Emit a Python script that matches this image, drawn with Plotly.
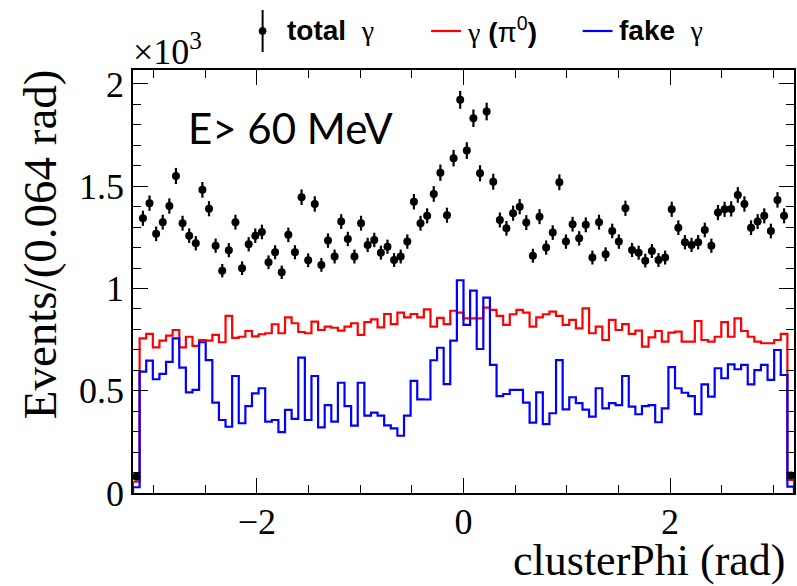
import numpy as np
import plotly.graph_objects as go

# ---- data (values in units of 10^3 events, 100 bins from -3.2 to 3.2 rad) ----
x_min, x_max, n_bins = -3.2, 3.2, 100

total = [0.080, 1.343, 1.417, 1.267, 1.324, 1.403, 1.550, 1.319, 1.258, 1.221,
         1.482, 1.390, 1.209, 1.087, 1.187, 1.324, 1.099, 1.216, 1.258, 1.276,
         1.128, 1.177, 1.079, 1.262, 1.177, 1.446, 1.138, 1.413, 1.115, 1.234,
         1.156, 1.327, 1.242, 1.156, 1.319, 1.213, 1.237, 1.175, 1.204, 1.139,
         1.156, 1.229, 1.424, 1.319, 1.355, 1.462, 1.566, 1.358, 1.637, 1.922,
         1.674, 1.832, 1.563, 1.865, 1.522, 1.335, 1.294, 1.368, 1.400, 1.322,
         1.160, 1.351, 1.200, 1.273, 1.519, 1.229, 1.314, 1.245, 1.311, 1.151,
         1.324, 1.167, 1.281, 1.229, 1.392, 1.188, 1.175, 1.136, 1.183, 1.139,
         1.151, 1.387, 1.297, 1.226, 1.213, 1.226, 1.286, 1.209, 1.371, 1.387,
         1.389, 1.457, 1.413, 1.297, 1.327, 1.355, 1.281, 1.433, 1.355, 0.085]

gamma_pi0 = [0.055, 0.756, 0.778, 0.712, 0.745, 0.769, 0.797, 0.712, 0.764, 0.719,
             0.748, 0.745, 0.773, 0.737, 0.866, 0.758, 0.764, 0.792, 0.766, 0.776,
             0.781, 0.825, 0.781, 0.859, 0.830, 0.787, 0.781, 0.838, 0.797, 0.813,
             0.808, 0.794, 0.813, 0.830, 0.773, 0.835, 0.849, 0.810, 0.875, 0.826,
             0.882, 0.859, 0.875, 0.859, 0.898, 0.813, 0.856, 0.826, 0.891, 0.882,
             0.854, 0.854, 0.854, 0.906, 0.895, 0.866, 0.822, 0.874, 0.895, 0.882,
             0.813, 0.859, 0.874, 0.887, 0.866, 0.822, 0.846, 0.805, 0.903, 0.781,
             0.813, 0.748, 0.846, 0.797, 0.826, 0.778, 0.794, 0.716, 0.761, 0.792,
             0.740, 0.784, 0.789, 0.740, 0.740, 0.841, 0.748, 0.740, 0.764, 0.835,
             0.764, 0.854, 0.792, 0.764, 0.740, 0.732, 0.732, 0.748, 0.778, 0.064]

fake = [0.028, 0.593, 0.647, 0.556, 0.582, 0.641, 0.756, 0.613, 0.492, 0.504,
        0.737, 0.650, 0.442, 0.357, 0.324, 0.572, 0.341, 0.425, 0.487, 0.512,
        0.349, 0.357, 0.298, 0.406, 0.362, 0.662, 0.357, 0.572, 0.321, 0.430,
        0.349, 0.539, 0.425, 0.329, 0.539, 0.378, 0.393, 0.378, 0.331, 0.316,
        0.280, 0.378, 0.548, 0.458, 0.457, 0.649, 0.710, 0.532, 0.745, 1.040,
        0.822, 0.989, 0.704, 0.955, 0.626, 0.474, 0.484, 0.504, 0.504, 0.442,
        0.344, 0.492, 0.337, 0.390, 0.650, 0.409, 0.468, 0.439, 0.408, 0.373,
        0.512, 0.414, 0.439, 0.430, 0.572, 0.422, 0.385, 0.425, 0.430, 0.346,
        0.414, 0.615, 0.512, 0.490, 0.474, 0.386, 0.531, 0.471, 0.610, 0.561,
        0.629, 0.605, 0.626, 0.531, 0.601, 0.626, 0.553, 0.699, 0.577, 0.031]

y_tick_vals = [0, 0.5, 1, 1.5, 2]
y_tick_text = ["0", "0.5", "1", "1.5", "2"]
x_tick_vals = [-2, 0, 2]
x_tick_text = ["\u22122", "0", "2"]

# ---- derived ----
edges = np.linspace(x_min, x_max, n_bins + 1)
centers = 0.5 * (edges[:-1] + edges[1:])
err = np.sqrt(np.array(total) * 1000.0) / 1000.0


def step_xy(vals):
    xs = np.repeat(edges, 2)
    ys = np.concatenate([[0.0], np.repeat(vals, 2), [0.0]])
    return xs, ys


fig = go.Figure()

xr, yr = step_xy(np.array(gamma_pi0))
fig.add_trace(go.Scatter(x=xr, y=yr, mode="lines",
                         line=dict(color="#ff0000", width=2.2), showlegend=False))
xb, yb = step_xy(np.array(fake))
fig.add_trace(go.Scatter(x=xb, y=yb, mode="lines",
                         line=dict(color="#0000ff", width=2.2), showlegend=False))
fig.add_trace(go.Scatter(x=centers, y=total, mode="markers",
                         marker=dict(color="black", size=8),
                         error_y=dict(type="data", array=err, color="black",
                                      thickness=2.2, width=0),
                         showlegend=False))

# ---- layout geometry (pixels) ----
W, H = 797, 586
L, R, T, B = 133, 1, 70, 93
pw, ph = W - L - R, H - T - B


def px(x):
    return (x - L) / pw


def py(y):
    return (H - B - y) / ph


serif = "Liberation Serif, Times New Roman, serif"
sans = "Liberation Sans, Arial, sans-serif"
g_serif = '<span style="font-family:Liberation Serif, serif">\u03b3</span>'

fig.update_layout(
    width=W, height=H,
    margin=dict(l=L, r=R, t=T, b=B, pad=0),
    paper_bgcolor="white", plot_bgcolor="white",
    showlegend=False,
    xaxis=dict(range=[x_min, x_max], showgrid=False, zeroline=False,
               showline=True, linecolor="black", linewidth=1.5, mirror="ticks",
               ticks="inside", ticklen=15, tickwidth=1, tickcolor="black",
               tickvals=x_tick_vals, ticktext=x_tick_text,
               tickfont=dict(family=serif, size=36, color="black"),
               ticklabelstandoff=-4,
               minor=dict(ticks="inside", ticklen=8, dtick=0.5, tick0=0,
                          tickcolor="black", showgrid=False)),
    yaxis=dict(range=[0, 2.068], showgrid=False, zeroline=False,
               showline=True, linecolor="black", linewidth=1.5, mirror="ticks",
               ticks="inside", ticklen=15, tickwidth=1, tickcolor="black",
               tickvals=y_tick_vals, ticktext=y_tick_text,
               tickfont=dict(family=serif, size=36, color="black"),
               minor=dict(ticks="inside", ticklen=8, dtick=0.1, tick0=0,
                          tickcolor="black", showgrid=False)),
)

ann = []
ann.append(dict(text="Events/(0.064 rad)", textangle=-90, xref="paper", yref="paper",
                x=px(40), y=py(244), xanchor="center", yanchor="middle", showarrow=False,
                font=dict(family=serif, size=47, color="black")))
ann.append(dict(text="clusterPhi (rad)", xref="paper", yref="paper",
                x=px(789), y=py(560), xanchor="right", yanchor="middle", showarrow=False,
                font=dict(family=serif, size=44, color="black")))
ann.append(dict(text="\u00d710<sup>3</sup>", xref="paper", yref="paper",
                x=px(131), y=py(50), xanchor="left", yanchor="middle", showarrow=False,
                font=dict(family=serif, size=36, color="black")))
ann.append(dict(text="E> 60 MeV", xref="paper", yref="paper",
                x=px(186), y=py(128), xanchor="left", yanchor="middle", showarrow=False,
                font=dict(family="Lato, Carlito, sans-serif", size=42, color="black")))
# legend texts
ann.append(dict(text="<b>total</b>  " + g_serif, xref="paper", yref="paper",
                x=px(285), y=py(30), xanchor="left", yanchor="middle", showarrow=False,
                font=dict(family=sans, size=28, color="black")))
ann.append(dict(text=g_serif + " <b>(</b>\u03c0<sup>0</sup><b>)</b>", xref="paper", yref="paper",
                x=px(466), y=py(30), xanchor="left", yanchor="middle", showarrow=False,
                font=dict(family=sans, size=28, color="black")))
ann.append(dict(text="<b>fake</b>  " + g_serif, xref="paper", yref="paper",
                x=px(618), y=py(30), xanchor="left", yanchor="middle", showarrow=False,
                font=dict(family=sans, size=28, color="black")))
fig.update_layout(annotations=ann)

shapes = []
shapes.append(dict(type="line", xref="paper", yref="paper",
                   x0=px(263), x1=px(263), y0=py(10), y1=py(52),
                   line=dict(color="black", width=2)))
shapes.append(dict(type="circle", xref="paper", yref="paper",
                   x0=px(259.5), x1=px(266.5), y0=py(27.5), y1=py(34.5),
                   fillcolor="black", line=dict(color="black", width=1)))
shapes.append(dict(type="line", xref="paper", yref="paper",
                   x0=px(432), x1=px(462), y0=py(31), y1=py(31),
                   line=dict(color="#ff0000", width=2.2)))
shapes.append(dict(type="line", xref="paper", yref="paper",
                   x0=px(584), x1=px(614), y0=py(31), y1=py(31),
                   line=dict(color="#0000ff", width=2.2)))
fig.update_layout(shapes=shapes)

fig.write_html("out.html")
